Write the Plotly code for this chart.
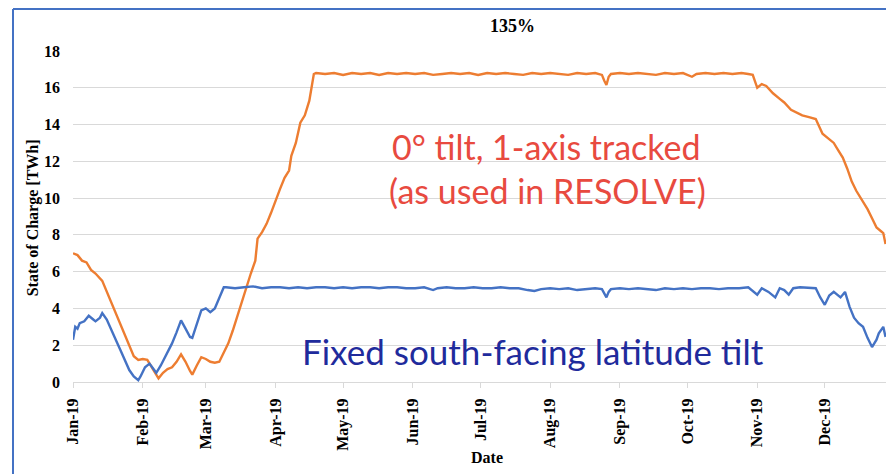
import pandas as pd
import plotly.graph_objects as go

# ---- data (day offset from 2019-01-01, value in TWh) ----
orange_days = [0, 2, 4, 6, 8, 10, 13, 15, 17, 19, 21, 23, 25, 27, 29, 31, 33, 35, 37, 38,
               40, 42, 44, 46, 48, 50, 52, 53, 55, 57, 59, 61, 63, 65, 67, 69, 71, 73, 75, 77,
               79, 81, 82, 84, 86, 88, 90, 92, 94, 96, 97, 99, 101, 103, 105, 106, 107,
               108, 112, 116, 120, 124, 128, 132, 136, 140, 144, 148, 152, 156, 160, 164, 168,
               172, 176, 180, 184, 188, 192, 196, 200, 204, 208, 212, 216, 220, 224, 228, 232,
               235, 236, 237, 238, 239, 243, 247, 251, 255, 259, 263, 267, 271, 275, 277, 281,
               285, 289, 293, 297, 300, 302, 304, 306, 308, 311, 314, 316, 319, 322, 324, 327,
               330, 333, 336, 338, 340, 342, 344, 346, 348, 350, 353, 355, 357, 359, 360, 361]
orange_vals = [7.0, 6.9, 6.6, 6.5, 6.1, 5.9, 5.5, 4.9, 4.3, 3.8, 3.1, 2.5, 1.9, 1.4, 1.2, 1.25, 1.2, 0.8, 0.35, 0.2,
               0.5, 0.7, 0.8, 1.1, 1.5, 1.1, 0.6, 0.4, 0.9, 1.35, 1.25, 1.1, 1.05, 1.1, 1.6, 2.1, 2.8, 3.6, 4.3, 5.2,
               5.9, 6.6, 7.8, 8.15, 8.6, 9.2, 9.9, 10.5, 11.1, 11.5, 12.3, 13.0, 14.1, 14.5, 15.3, 16.0, 16.75,
               16.8, 16.75, 16.8, 16.7, 16.8, 16.75, 16.8, 16.7, 16.8, 16.75, 16.8, 16.75, 16.8, 16.7, 16.75, 16.8,
               16.75, 16.8, 16.7, 16.8, 16.75, 16.8, 16.75, 16.7, 16.8, 16.75, 16.8, 16.75, 16.7, 16.8, 16.75, 16.8,
               16.7, 16.4, 16.15, 16.6, 16.75, 16.8, 16.75, 16.8, 16.75, 16.7, 16.8, 16.75, 16.8, 16.6, 16.75, 16.8,
               16.75, 16.8, 16.75, 16.8, 16.75, 16.7, 16.0, 16.2, 16.1, 15.7, 15.4, 15.2, 14.8, 14.6, 14.5, 14.4,
               14.3, 13.5, 13.2, 13.0, 12.6, 12.2, 11.6, 10.9, 10.4, 10.0, 9.4, 8.9, 8.4, 8.2, 8.1, 7.5]

blue_days = [0, 1, 2, 3, 5, 7, 9, 10, 12, 13, 15, 17, 19, 21, 23, 25, 27, 29, 30, 32,
             34, 36, 37, 39, 42, 44, 46, 48, 50, 52, 53, 55, 57, 59, 61, 63, 64, 66, 67,
             68, 72, 76, 80, 84, 88, 92, 96, 100, 104, 108, 112, 116, 120, 124, 128, 132, 136,
             140, 144, 148, 152, 156, 160, 162, 166, 170, 174, 178, 182, 186, 190, 194, 198,
             202, 205, 208, 212, 216, 220, 224, 228, 232, 235, 236, 237, 238, 239, 243, 247,
             251, 255, 259, 263, 267, 271, 275, 279, 283, 287, 291, 296, 300, 304, 306, 309,
             312, 314, 316, 318, 320, 323, 327, 330, 332, 334, 336, 338, 341, 343, 345, 347,
             349, 351, 353, 355, 357, 358, 360, 361]
blue_vals = [2.3, 3.0, 2.9, 3.2, 3.3, 3.6, 3.4, 3.3, 3.5, 3.75, 3.4, 2.8, 2.3, 1.75, 1.2, 0.65, 0.3, 0.1, 0.3, 0.8,
             1.0, 0.7, 0.5, 0.9, 1.6, 2.1, 2.7, 3.35, 2.9, 2.45, 2.4, 3.2, 3.9, 4.0, 3.8, 4.0, 4.3, 4.8, 5.15,
             5.15, 5.1, 5.15, 5.2, 5.1, 5.15, 5.15, 5.1, 5.15, 5.1, 5.15, 5.15, 5.1, 5.15, 5.1, 5.15, 5.15, 5.1,
             5.15, 5.15, 5.1, 5.1, 5.15, 5.0, 5.1, 5.15, 5.1, 5.1, 5.15, 5.1, 5.1, 5.15, 5.1, 5.1,
             5.0, 4.95, 5.05, 5.1, 5.05, 5.1, 5.0, 5.05, 5.1, 5.05, 4.8, 4.6, 4.9, 5.05, 5.1, 5.05,
             5.1, 5.05, 5.0, 5.1, 5.05, 5.1, 5.05, 5.1, 5.1, 5.05, 5.1, 5.1, 5.15, 4.75, 5.1, 4.9,
             4.6, 5.1, 5.0, 4.75, 5.1, 5.15, 5.1, 5.1, 4.6, 4.2, 4.7, 4.9, 4.6, 4.9, 4.1, 3.5,
             3.2, 3.0, 2.4, 1.9, 2.3, 2.65, 3.0, 2.45]

tick_dates = ["2019-01-01", "2019-02-01", "2019-03-01", "2019-04-01", "2019-05-01", "2019-06-01",
              "2019-07-01", "2019-08-01", "2019-09-01", "2019-10-01", "2019-11-01", "2019-12-01"]
tick_labels = ["Jan-19", "Feb-19", "Mar-19", "Apr-19", "May-19", "Jun-19",
               "Jul-19", "Aug-19", "Sep-19", "Oct-19", "Nov-19", "Dec-19"]

start = pd.Timestamp("2019-01-01")
orange_x = start + pd.to_timedelta(orange_days, unit="D")
blue_x = start + pd.to_timedelta(blue_days, unit="D")

SERIF = "Liberation Serif, Times New Roman, serif"

fig = go.Figure()
fig.add_trace(go.Scatter(x=orange_x, y=orange_vals, mode="lines",
                         line=dict(color="#ED7D31", width=2.4), showlegend=False))
fig.add_trace(go.Scatter(x=blue_x, y=blue_vals, mode="lines",
                         line=dict(color="#4472C4", width=2.4), showlegend=False))

fig.update_layout(
    width=886, height=474,
    margin=dict(l=73, r=0, t=51, b=92),
    paper_bgcolor="white", plot_bgcolor="white",
    xaxis=dict(
        range=["2019-01-01", "2019-12-28 05:00"],
        tickvals=tick_dates, ticktext=tick_labels, tickangle=-90,
        tickfont=dict(family=SERIF, size=16, color="black", weight="bold"),
        showgrid=False, showline=True, linecolor="#D9D9D9", linewidth=1,
        ticks="outside", ticklen=5, tickcolor="#D9D9D9", ticklabelstandoff=4,
        zeroline=False,
    ),
    yaxis=dict(
        range=[0, 18], tickvals=[0, 2, 4, 6, 8, 10, 12, 14, 16, 18],
        tickfont=dict(family=SERIF, size=16, color="black", weight="bold"),
        showgrid=True, gridcolor="#D9D9D9", gridwidth=1,
        zeroline=False, showline=False, ticks="", ticklabelstandoff=12,
    ),
)

annos = [
    dict(text="135%", x=0.54, y=1.0755, font=dict(family=SERIF, size=18, color="black", weight="bold")),
    dict(text="State of Charge [TWh]", x=-0.049, y=0.495, textangle=-90,
         font=dict(family=SERIF, size=16, color="black", weight="bold")),
    dict(text="Date", x=0.509, y=-0.227, font=dict(family=SERIF, size=16, color="black", weight="bold")),
    dict(text="0° tilt, 1-axis tracked", x=0.582, y=0.710, font=dict(family="Lato", size=34, color="#E84A3F")),
    dict(text="(as used in RESOLVE)", x=0.584, y=0.580, font=dict(family="Lato", size=34, color="#E84A3F")),
    dict(text="Fixed south-facing latitude tilt", x=0.566, y=0.094,
         font=dict(family="Lato", size=35, color="#1F2B9C")),
]
for a in annos:
    fig.add_annotation(xref="paper", yref="paper", showarrow=False,
                       xanchor="center", yanchor="middle", **a)

# slide frame lines (left and top)
fig.add_shape(type="line", xref="paper", yref="paper", x0=-0.0738, x1=-0.0738, y0=-0.3, y1=1.127,
              line=dict(color="#4472C4", width=2))
fig.add_shape(type="line", xref="paper", yref="paper", x0=-0.0738, x1=1.0, y0=1.127, y1=1.127,
              line=dict(color="#4472C4", width=2))

fig.write_html("out.html", config={"displayModeBar": False},
               post_script="document.body.style.margin='0';document.body.style.overflow='hidden';")
